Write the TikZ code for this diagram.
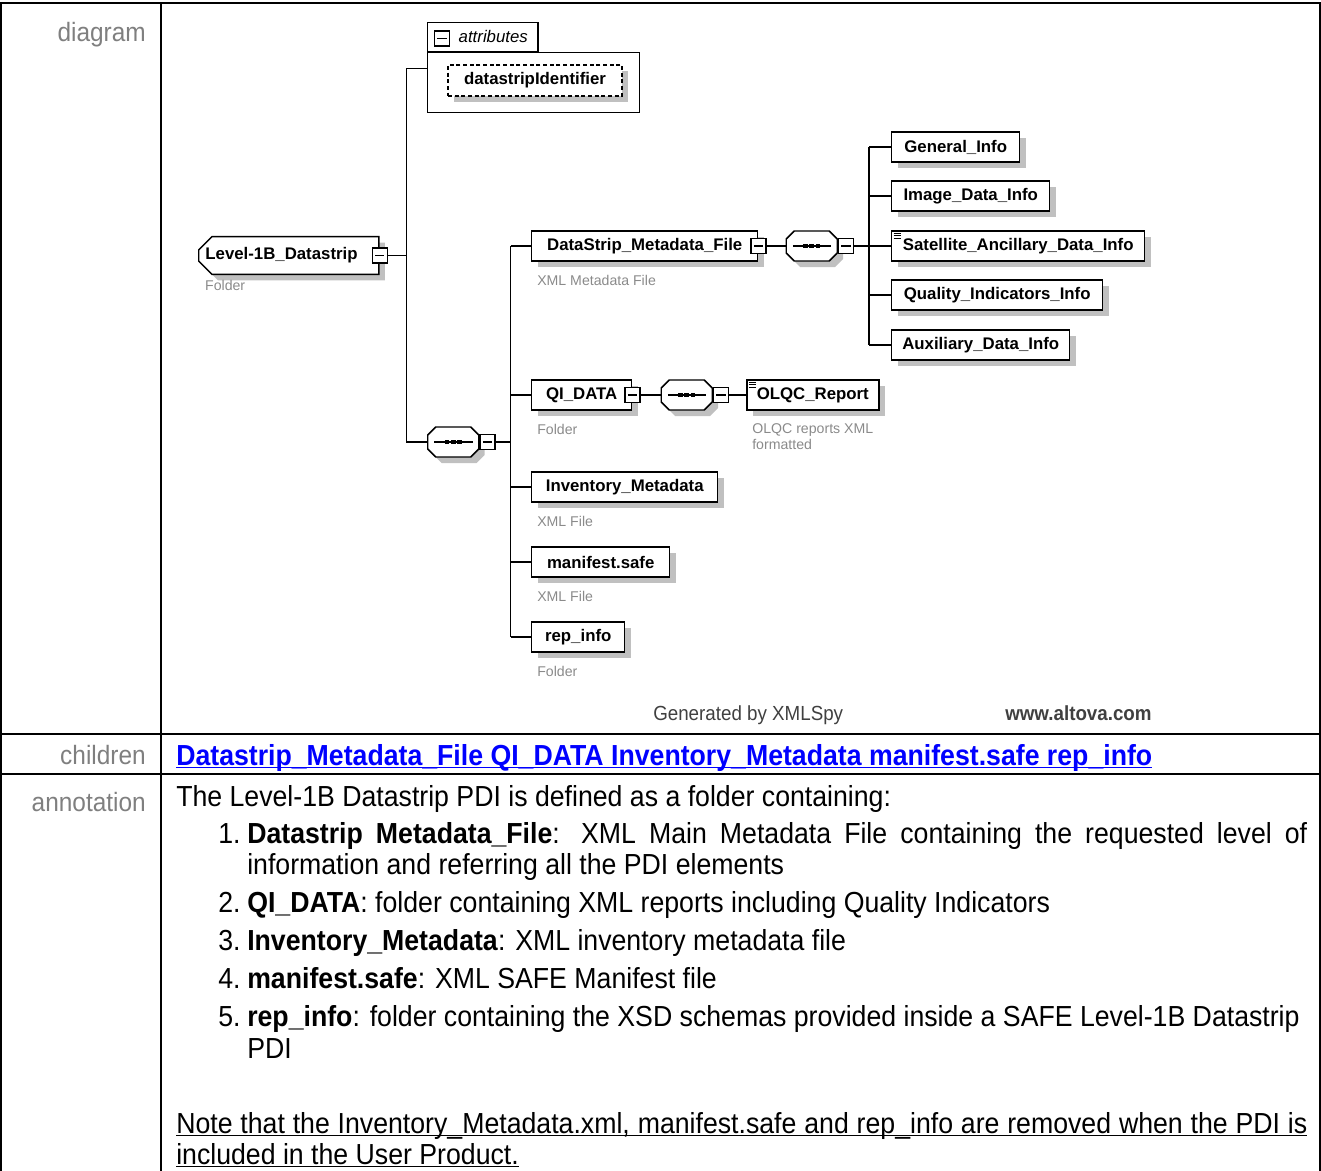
\documentclass[tikz,border=0pt]{standalone}
\usepackage{fontspec}
\setmainfont{Liberation Sans}
\newfontfamily\tabfont[FakeStretch=0.92]{Liberation Sans}
\usetikzlibrary{positioning, shadows, shapes.misc}

\definecolor{shgray}{HTML}{C0C0C0}
\definecolor{descgray}{HTML}{8A8A8A}
\definecolor{labgray}{HTML}{7F7F7F}
\definecolor{linkblue}{HTML}{0000FF}
\definecolor{footgray}{HTML}{404040}

\begin{document}
\begin{tikzpicture}[
    x=0.75pt, y=-0.75pt,
    font=\fontsize{12.6}{15}\selectfont\bfseries,
    elem/.style={rectangle, draw, fill=white, line width=1.1pt, minimum height=22.5pt, inner xsep=6pt, anchor=west,
      general shadow={fill=shgray, shadow xshift=4.5pt, shadow yshift=-4.5pt}},
    docmark/.style={path picture={
        \foreach \k in {1.75pt,3.5pt,5.25pt}
          \draw[line width=0.7pt] ([xshift=1.5pt, yshift=-\k]path picture bounding box.north west) -- ++(5.25pt,0pt);}},
    seq/.style={chamfered rectangle, chamfered rectangle sep=3pt, draw, fill=white, line width=1.1pt,
      inner xsep=16.125pt, inner ysep=8.25pt, anchor=west,
      general shadow={fill=shgray, shadow xshift=4.5pt, shadow yshift=-4.5pt},
      path picture={
        \draw[line width=0.8pt] ([xshift=5pt]path picture bounding box.west) -- ([xshift=-4.5pt]path picture bounding box.east);
        \foreach \d in {-4.8pt,0pt,4.8pt}
          \fill[black] ([xshift=\d]path picture bounding box.center) +(-1.7pt,-1.7pt) rectangle +(1.7pt,1.7pt);}},
    minus/.style={rectangle, draw, fill=white, line width=0.8pt, minimum size=11.25pt, inner sep=0pt,
      path picture={\draw[line width=0.8pt] ([xshift=2.2pt]path picture bounding box.west) -- ([xshift=-2.2pt]path picture bounding box.east);}},
    desc/.style={font=\fontsize{10.6}{12}\selectfont, text=descgray, inner sep=0pt, align=left},
    link/.style={line width=0.9pt},
    grid/.style={line width=1.5pt},
    lab/.style={font=\tabfont\fontsize{19.9}{22}\selectfont, text=labgray, anchor=base east, inner sep=0pt},
    body/.style={font=\tabfont\fontsize{21.75}{23.25}\selectfont, anchor=base west, inner sep=0pt},
    foot/.style={font=\tabfont\fontsize{15.3}{18}\selectfont, text=footgray, anchor=base west, inner sep=0pt},
  ]
  \useasboundingbox (0,0) rectangle (1321,1171);

  % table frame
  \draw[grid] (1,1171) -- (1,3) -- (1320,3) -- (1320,1171);
  \draw[grid] (161,3) -- (161,1171);
  \draw[grid] (1,734) -- (1320,734);
  \draw[grid] (1,774) -- (1320,774);

  \node[lab] (labdia) at (146,41) {diagram};
  \node[lab] (labkids) at (146,764) {children};
  \node[lab] (labann) at (146,811) {annotation};

  % attributes
  \node[rectangle, draw, line width=1.1pt, minimum width=159pt, minimum height=45pt, inner sep=0pt, anchor=north west] (attrbox) at (427,52) {};
  \node[rectangle, draw, fill=white, line width=1.1pt, minimum height=21.75pt, inner xsep=7.5pt, inner ysep=0pt,
    anchor=south west, font=\fontsize{12.6}{15}\selectfont\itshape] (attrtab) at (427,52) {\hspace*{15.75pt}attributes};
  \node[minus] (attrm) at (442,38.5) {};
  \node[elem, line width=0.9pt, dash pattern=on 3pt off 2pt, minimum width=130.5pt, minimum height=23.25pt, anchor=center] (dsid) at (535,80.5) {datastripIdentifier};

  % root
  \node[elem, chamfered rectangle, chamfered rectangle corners={north west,south west}, chamfered rectangle sep=5pt,
    inner xsep=0pt, minimum width=135pt, minimum height=24pt] (lvl) at (198,255.5) {Level-1B\_Datastrip\hspace*{11pt}};
  \node[minus] (lvlm) at (lvl.east) {};
  \node[desc, below right=9pt and 0pt of lvl.south west] (lvld) {Folder};

  \node[seq] (seq0) at (427,442) {};
  \node[minus, right=0pt of seq0] (seq0m) {};

  % children
  \node[elem, minimum width=169.5pt] (dsmf) at (531,246) {DataStrip\_Metadata\_File};
  \node[minus] (dsmfm) at (dsmf.east) {};
  \node[desc, below right=9.75pt and 4.5pt of dsmf.south west] (dsmfd) {XML Metadata File};
  \node[seq, right=14.25pt of dsmfm] (seq1) {};
  \node[minus, right=0pt of seq1] (seq1m) {};

  \node[elem, minimum width=96pt] (gen) at (891,147) {General\_Info};
  \node[elem, minimum width=118.5pt] (img) at (891,196) {Image\_Data\_Info};
  \node[elem, docmark, minimum width=189.75pt] (sat) at (891,246) {Satellite\_Ancillary\_Data\_Info};
  \node[elem, minimum width=158.25pt] (qual) at (891,295) {Quality\_Indicators\_Info};
  \node[elem, minimum width=133.5pt] (aux) at (891,345) {Auxiliary\_Data\_Info};

  \node[elem, minimum width=75pt] (qi) at (531,395) {QI\_DATA};
  \node[minus] (qim) at (qi.east) {};
  \node[desc, below right=9.75pt and 4.5pt of qi.south west] (qid) {Folder};
  \node[seq, right=15pt of qim] (seq2) {};
  \node[minus, right=0pt of seq2] (seq2m) {};
  \node[elem, docmark, minimum width=99pt, right=12.75pt of seq2m] (olqc) {OLQC\_Report};
  \node[desc, below right=9.75pt and 4.5pt of olqc.south west] (olqcd) {OLQC reports XML\\formatted};

  \node[elem, minimum width=139.5pt] (inv) at (531,487) {Inventory\_Metadata};
  \node[desc, below right=9.75pt and 4.5pt of inv.south west] (invd) {XML File};
  \node[elem, minimum width=103.5pt] (man) at (531,562) {manifest.safe};
  \node[desc, below right=9.75pt and 4.5pt of man.south west] (mand) {XML File};
  \node[elem, minimum width=69.75pt] (rep) at (531,637) {rep\_info};
  \node[desc, below right=9.75pt and 4.5pt of rep.south west] (repd) {Folder};

  % tree lines
  \draw[link] (lvlm.east) -- ++(19,0) coordinate (t0);
  \draw[link] ([yshift=10.5pt]attrbox.west) -| (t0) |- (seq0.west);
  \draw[link] (seq0m.east) -- ++(15,0) coordinate (t1);
  \draw[link] (t1 |- dsmf.west) -- (t1 |- rep.west);
  \foreach \n in {dsmf, qi, inv, man, rep}
    \draw[link] (t1 |- \n.west) -- (\n.west);
  \draw[link] (dsmfm.east) -- (seq1.west);
  \draw[link] (seq1m.east) -- ++(15,0) coordinate (t2);
  \draw[link] (t2 |- gen.west) -- (t2 |- aux.west);
  \foreach \n in {gen, img, sat, qual, aux}
    \draw[link] (t2 |- \n.west) -- (\n.west);
  \draw[link] (qim.east) -- (seq2.west);
  \draw[link] (seq2m.east) -- (olqc.west);

  \node[foot] (genby) at (653,720) {Generated by XMLSpy};
  \node[foot, font=\tabfont\fontsize{15.3}{18}\selectfont\bfseries] (altova) at (1005,720) {www.altova.com};

  % children row
  \node[body, font=\tabfont\fontsize{21.75}{23.25}\selectfont\bfseries, text=linkblue] (kids) at (176,765)
    {\underline{\smash{Datastrip\_Metadata\_File QI\_DATA Inventory\_Metadata manifest.safe rep\_info}}};

  % annotation
  \node[body] (ann0) at (176,806) {The Level-1B Datastrip PDI is defined as a folder containing:};
  \foreach \i/\y in {1/843, 2/912, 3/950, 4/988, 5/1026}
    \node[body] (num\i) at (218,\y) {\i.};
  \node[body] (ann1) at (247,843) {\makebox[795pt][s]{\textbf{Datastrip Metadata\_File}: XML Main Metadata File containing the requested level of}};
  \node[body] (ann1b) at (247,874) {information and referring all the PDI elements};
  \node[body] (ann2) at (247,912) {\textbf{QI\_DATA}: folder containing XML reports including Quality Indicators};
  \node[body] (ann3) at (247,950) {\textbf{Inventory\_Metadata}: XML inventory metadata file};
  \node[body] (ann4) at (247,988) {\textbf{manifest.safe}: XML SAFE Manifest file};
  \node[body] (ann5) at (247,1026) {\textbf{rep\_info}: folder containing the XSD schemas provided inside a SAFE Level-1B Datastrip};
  \node[body] (ann5b) at (247,1058) {PDI};
  \node[body] (note1) at (176,1133) {\underline{\smash{\makebox[848.25pt][s]{Note that the Inventory\_Metadata.xml, manifest.safe and rep\_info are removed when the PDI is}}}};
  \node[body] (note2) at (176,1164) {\underline{\smash{included in the User Product.}}};
\end{tikzpicture}
\end{document}
